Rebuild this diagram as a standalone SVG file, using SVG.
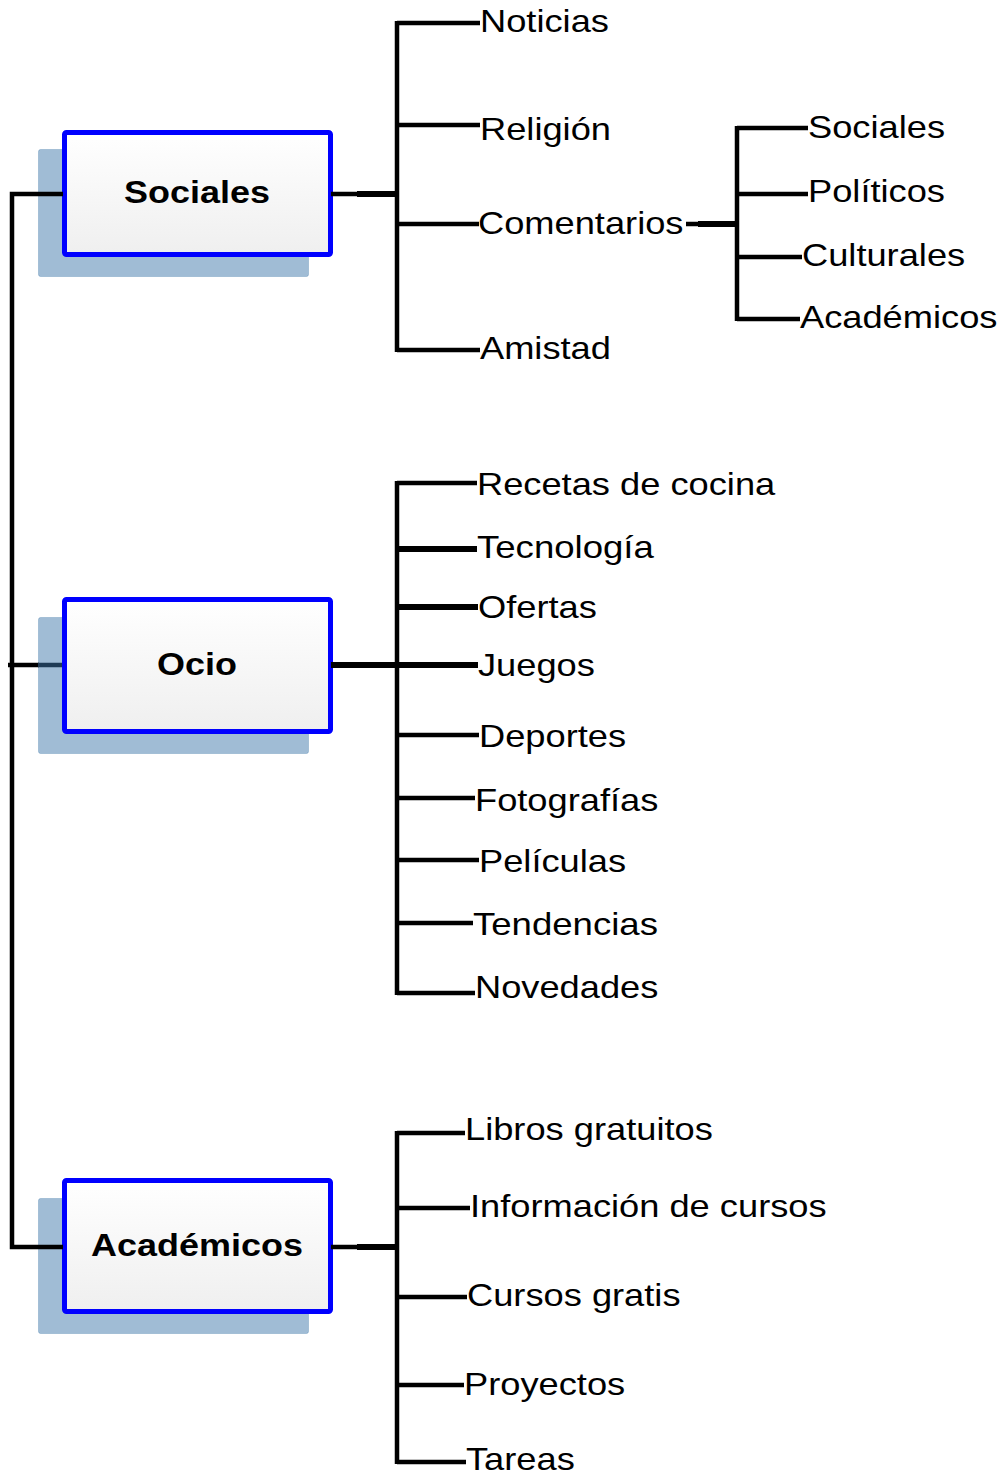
<svg xmlns="http://www.w3.org/2000/svg" width="1002" height="1474" viewBox="0 0 1002 1474">
<defs>
<linearGradient id="boxfill" x1="0" y1="0" x2="0" y2="1">
<stop offset="0" stop-color="#ffffff"/>
<stop offset="1" stop-color="#efefef"/>
</linearGradient>
<style>
.shadow{fill:#3e76aa;fill-opacity:0.49;stroke:#3e76aa;stroke-opacity:0.3;stroke-width:1}
.box{fill:url(#boxfill);stroke:#0000ff;stroke-width:5}
.lbl{font-family:"Liberation Sans",Arial,sans-serif;font-size:31px;fill:#000}
.blbl{font-family:"Liberation Sans",Arial,sans-serif;font-size:31px;font-weight:bold;fill:#000;text-anchor:middle}
.ln{stroke:#000;stroke-width:4.5;fill:none;stroke-linecap:butt}
.thk{stroke:#000;stroke-width:6;fill:none}
</style>
</defs>
<rect width="1002" height="1474" fill="#ffffff"/>

<g id="node-sociales">
<rect class="shadow" x="38.5" y="149.5" width="270" height="127" rx="2"/>
<rect class="box" x="64.5" y="132.5" width="266" height="122" rx="2"/>
<text class="blbl" transform="translate(197,203) scale(1.16,1)">Sociales</text>
</g>
<g id="node-ocio">
<rect class="shadow" x="38.5" y="617.5" width="270" height="136" rx="2"/>
<rect class="box" x="64.5" y="599.5" width="266" height="132" rx="2"/>
<text class="blbl" transform="translate(197,675) scale(1.16,1)">Ocio</text>
</g>
<g id="node-academicos">
<rect class="shadow" x="38.5" y="1198.5" width="270" height="135" rx="2"/>
<rect class="box" x="64.5" y="1180.5" width="266" height="131" rx="2"/>
<text class="blbl" transform="translate(197,1256) scale(1.16,1)">Académicos</text>
</g>

<g id="connectors">
<!-- left trunk -->
<path class="ln" d="M63,194 H12 V1247 H63"/>
<line class="ln" x1="8" y1="665" x2="39" y2="665"/>
<line x1="38" y1="665" x2="62" y2="665" stroke="#1f3b55" stroke-width="4.5"/>
<!-- Sociales -->
<line class="ln" x1="331" y1="194" x2="397" y2="194" stroke-width="3.5"/>
<line class="thk" x1="357" y1="194" x2="397" y2="194"/>
<line class="ln" x1="397" y1="21" x2="397" y2="352" stroke-width="5.5"/>
<line class="ln" x1="397" y1="23" x2="480" y2="23"/>
<line class="ln" x1="397" y1="125" x2="480" y2="125"/>
<line class="ln" x1="397" y1="224" x2="479" y2="224"/>
<line class="ln" x1="397" y1="350" x2="480" y2="350"/>
<line class="ln" x1="686" y1="224" x2="737" y2="224" stroke-width="3.5"/>
<line class="thk" x1="698" y1="224" x2="737" y2="224"/>
<line class="ln" x1="737" y1="126" x2="737" y2="321" stroke-width="5.5"/>
<line class="ln" x1="737" y1="128" x2="808" y2="128"/>
<line class="ln" x1="737" y1="194" x2="808" y2="194"/>
<line class="ln" x1="737" y1="257" x2="802" y2="257"/>
<line class="ln" x1="737" y1="319" x2="800" y2="319"/>
<!-- Ocio -->
<line class="thk" x1="331" y1="665" x2="478" y2="665" stroke-width="6.5"/>
<line class="ln" x1="397" y1="481" x2="397" y2="995" stroke-width="5.5"/>
<line class="ln" x1="397" y1="483" x2="477" y2="483"/>
<line class="thk" x1="395" y1="549" x2="477" y2="549"/>
<line class="thk" x1="395" y1="607" x2="478" y2="607"/>
<line class="ln" x1="397" y1="735" x2="479" y2="735"/>
<line class="ln" x1="397" y1="798" x2="475" y2="798"/>
<line class="ln" x1="397" y1="860" x2="479" y2="860"/>
<line class="ln" x1="397" y1="923" x2="473" y2="923"/>
<line class="ln" x1="397" y1="993" x2="475" y2="993"/>
<!-- Academicos -->
<line class="ln" x1="331" y1="1247" x2="397" y2="1247" stroke-width="3.5"/>
<line class="thk" x1="357" y1="1247" x2="397" y2="1247"/>
<line class="ln" x1="397" y1="1131" x2="397" y2="1464" stroke-width="5.5"/>
<line class="ln" x1="397" y1="1133" x2="465" y2="1133"/>
<line class="ln" x1="397" y1="1208" x2="470" y2="1208"/>
<line class="ln" x1="397" y1="1297" x2="467" y2="1297"/>
<line class="ln" x1="397" y1="1385" x2="464" y2="1385"/>
<line class="ln" x1="397" y1="1462" x2="466" y2="1462"/>
</g>

<g id="leaves-sociales">
<text class="lbl" transform="translate(480,32) scale(1.17,1)">Noticias</text>
<text class="lbl" transform="translate(480,140) scale(1.17,1)">Religión</text>
<text class="lbl" transform="translate(478,234) scale(1.17,1)">Comentarios</text>
<text class="lbl" transform="translate(480,359) scale(1.17,1)">Amistad</text>
<text class="lbl" transform="translate(808,138) scale(1.17,1)">Sociales</text>
<text class="lbl" transform="translate(808,202) scale(1.17,1)">Políticos</text>
<text class="lbl" transform="translate(802,266) scale(1.17,1)">Culturales</text>
<text class="lbl" transform="translate(800,328) scale(1.17,1)">Académicos</text>
</g>
<g id="leaves-ocio">
<text class="lbl" transform="translate(477,495) scale(1.17,1)">Recetas de cocina</text>
<text class="lbl" transform="translate(477,558) scale(1.18,1)">Tecnología</text>
<text class="lbl" transform="translate(478,618) scale(1.17,1)">Ofertas</text>
<text class="lbl" transform="translate(478,676) scale(1.17,1)">Juegos</text>
<text class="lbl" transform="translate(479,747) scale(1.17,1)">Deportes</text>
<text class="lbl" transform="translate(475,811) scale(1.17,1)">Fotografías</text>
<text class="lbl" transform="translate(479,872) scale(1.17,1)">Películas</text>
<text class="lbl" transform="translate(473,935) scale(1.18,1)">Tendencias</text>
<text class="lbl" transform="translate(475,998) scale(1.17,1)">Novedades</text>
</g>
<g id="leaves-academicos">
<text class="lbl" transform="translate(465,1140) scale(1.17,1)">Libros gratuitos</text>
<text class="lbl" transform="translate(470,1217) scale(1.17,1)">Información de cursos</text>
<text class="lbl" transform="translate(467,1306) scale(1.17,1)">Cursos gratis</text>
<text class="lbl" transform="translate(464,1395) scale(1.17,1)">Proyectos</text>
<text class="lbl" transform="translate(466,1470) scale(1.17,1)">Tareas</text>
</g>
</svg>
